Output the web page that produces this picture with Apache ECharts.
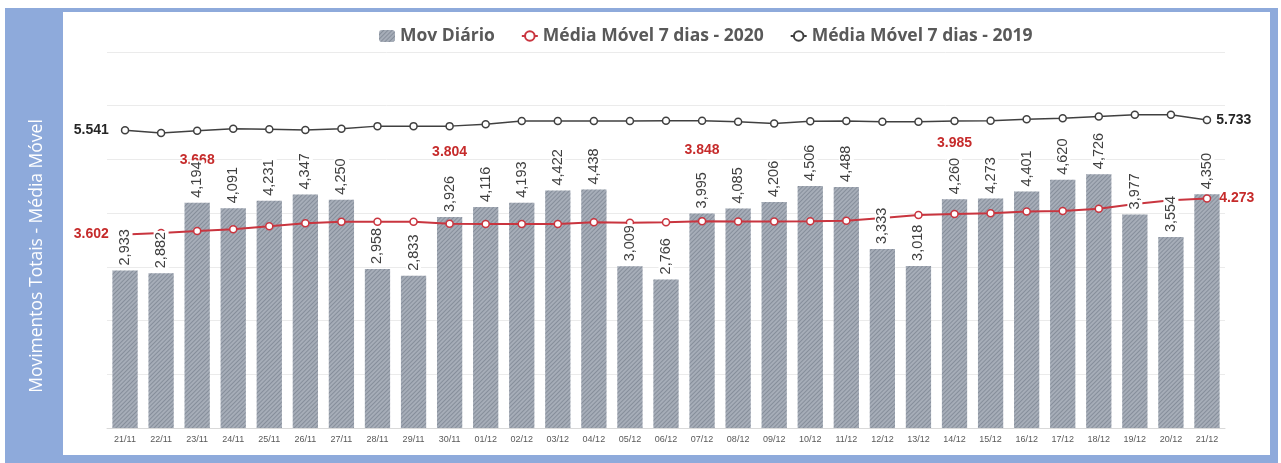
<!DOCTYPE html>
<html>
<head>
<meta charset="utf-8">
<script src="https://cdn.jsdelivr.net/npm/echarts@6/dist/echarts.min.js"></script>
<style>
  html, body { margin: 0; padding: 0; background: #fff; }
  #grafico { width: 1281px; height: 463px; }
</style>
</head>
<body>
<div id="grafico"></div>
<script>
// dados (milhares de movimentos)
const dias = ['21/11', '22/11', '23/11', '24/11', '25/11', '26/11', '27/11', '28/11', '29/11', '30/11',
  '01/12', '02/12', '03/12', '04/12', '05/12', '06/12', '07/12', '08/12', '09/12', '10/12',
  '11/12', '12/12', '13/12', '14/12', '15/12', '16/12', '17/12', '18/12', '19/12', '20/12', '21/12']
const movDiario = [2.933, 2.882, 4.194, 4.091, 4.231, 4.347, 4.250, 2.958, 2.833, 3.926,
  4.116, 4.193, 4.422, 4.438, 3.009, 2.766, 3.995, 4.085, 4.206, 4.506,
  4.488, 3.333, 3.018, 4.260, 4.273, 4.401, 4.620, 4.726, 3.977, 3.554, 4.350]
const media2020 = [3.602, 3.630, 3.668, 3.700, 3.755, 3.810, 3.840, 3.840, 3.840, 3.804,
  3.800, 3.800, 3.800, 3.830, 3.820, 3.830, 3.848, 3.845, 3.845, 3.850,
  3.860, 3.910, 3.966, 3.985, 4.000, 4.030, 4.040, 4.080, 4.170, 4.240, 4.273]
const media2019 = [5.541, 5.490, 5.535, 5.570, 5.560, 5.550, 5.570, 5.620, 5.620, 5.620,
  5.655, 5.716, 5.716, 5.716, 5.716, 5.720, 5.720, 5.700, 5.670, 5.710,
  5.716, 5.700, 5.700, 5.716, 5.720, 5.750, 5.765, 5.800, 5.830, 5.830, 5.733]
const rotulos2020 = [2, 9, 16, 23]

const vermelho = '#c9353f'
const fmt = v => v.toFixed(3)

// pontos da linha 2020 com rotulo
const pontos2020 = media2020.map((v, i) => {
  if (i === 0) {
    return { value: v, label: { show: true, position: 'left', distance: 12 } }
  }
  if (i === media2020.length - 1) {
    return { value: v, label: { show: true, position: 'right', distance: 8 } }
  }
  if (rotulos2020.includes(i)) {
    return { value: v, label: { show: true, position: 'top', distance: 60 } }
  }
  return v
})

const pontos2019 = media2019.map((v, i) => {
  if (i === 0) return { value: v, label: { show: true, position: 'left', distance: 12 } }
  if (i === media2019.length - 1) return { value: v, label: { show: true, position: 'right', distance: 5 } }
  return v
})

const myChart = echarts.init(document.getElementById('grafico'))
const option = {
  animation: false,
  textStyle: { fontFamily: 'Liberation Sans' },
  graphic: [
    { type: 'rect', z: -10, shape: { x: 5, y: 8, width: 1273, height: 455 }, style: { fill: '#8eaadb' } },
    { type: 'rect', z: -9, shape: { x: 63, y: 12, width: 1207, height: 443 }, style: { fill: '#fff' } },
    {
      type: 'text', z: -8, x: 37, y: 256, rotation: Math.PI / 2,
      style: {
        text: 'Movimentos Totais - Média Móvel',
        fill: '#fff', fontSize: 17.5, fontFamily: 'Open Sans',
        align: 'center', verticalAlign: 'middle'
      }
    }
  ],
  legend: {
    data: ['Mov Diário', 'Média Móvel 7 dias - 2020', 'Média Móvel 7 dias - 2019'],
    left: 374,
    top: 22,
    itemGap: 26,
    itemWidth: 16,
    itemHeight: 12,
    textStyle: { fontSize: 17.5, fontWeight: 'bold', color: '#595959', fontFamily: 'Open Sans' }
  },
  grid: {
    left: 107,
    right: 56,
    top: 52,
    bottom: 35
  },
  xAxis: {
    type: 'category',
    data: dias,
    axisLine: { lineStyle: { color: '#d9d9d9' } },
    axisTick: { show: false },
    axisLabel: { fontSize: 9, color: '#595959', margin: 7 }
  },
  yAxis: {
    type: 'value',
    min: 0,
    max: 7,
    interval: 1,
    axisLabel: { show: false },
    axisLine: { show: false },
    axisTick: { show: false },
    splitLine: { lineStyle: { color: '#ebebeb' } }
  },
  series: [
    {
      name: 'Mov Diário',
      type: 'bar',
      barWidth: '70%',
      data: movDiario,
      itemStyle: {
        color: '#a6adb8',
        decal: {
          symbol: 'rect',
          symbolSize: 1,
          dashArrayX: [1, 0],
          dashArrayY: [1, 2],
          rotation: -Math.PI / 4,
          color: 'rgba(85, 95, 110, 0.4)'
        }
      },
      z: 1
    },
    {
      name: 'Média Móvel 7 dias - 2020',
      type: 'line',
      data: pontos2020,
      symbol: 'circle',
      symbolSize: 7,
      lineStyle: { color: vermelho, width: 2 },
      itemStyle: { color: '#fff', borderColor: vermelho, borderWidth: 1.5 },
      label: {
        show: false,
        formatter: p => fmt(p.value),
        color: '#c62b2b',
        fontSize: 14,
        fontWeight: 'bold'
      },
      z: 3
    },
    {
      name: 'Média Móvel 7 dias - 2019',
      type: 'line',
      data: pontos2019,
      symbol: 'circle',
      symbolSize: 7,
      lineStyle: { color: '#404040', width: 1.5 },
      itemStyle: { color: '#fff', borderColor: '#404040', borderWidth: 1.5 },
      label: {
        show: false,
        formatter: p => fmt(p.value),
        color: '#262626',
        fontSize: 14,
        fontWeight: 'bold'
      },
      z: 3
    },
    {
      // so os rotulos das barras, por cima da linha vermelha
      name: 'rotulos',
      type: 'bar',
      barWidth: '70%',
      barGap: '-100%',
      data: movDiario,
      silent: true,
      itemStyle: { color: 'rgba(0,0,0,0)' },
      label: {
        show: true,
        position: 'top',
        distance: 4,
        rotate: 90,
        align: 'left',
        verticalAlign: 'middle',
        formatter: p => fmt(p.value).replace('.', ','),
        color: '#404040',
        fontSize: 14.5,
        backgroundColor: '#fff',
        padding: [0, 1]
      },
      z: 4
    }
  ]
}

option && myChart.setOption(option)
</script>
</body>
</html>
